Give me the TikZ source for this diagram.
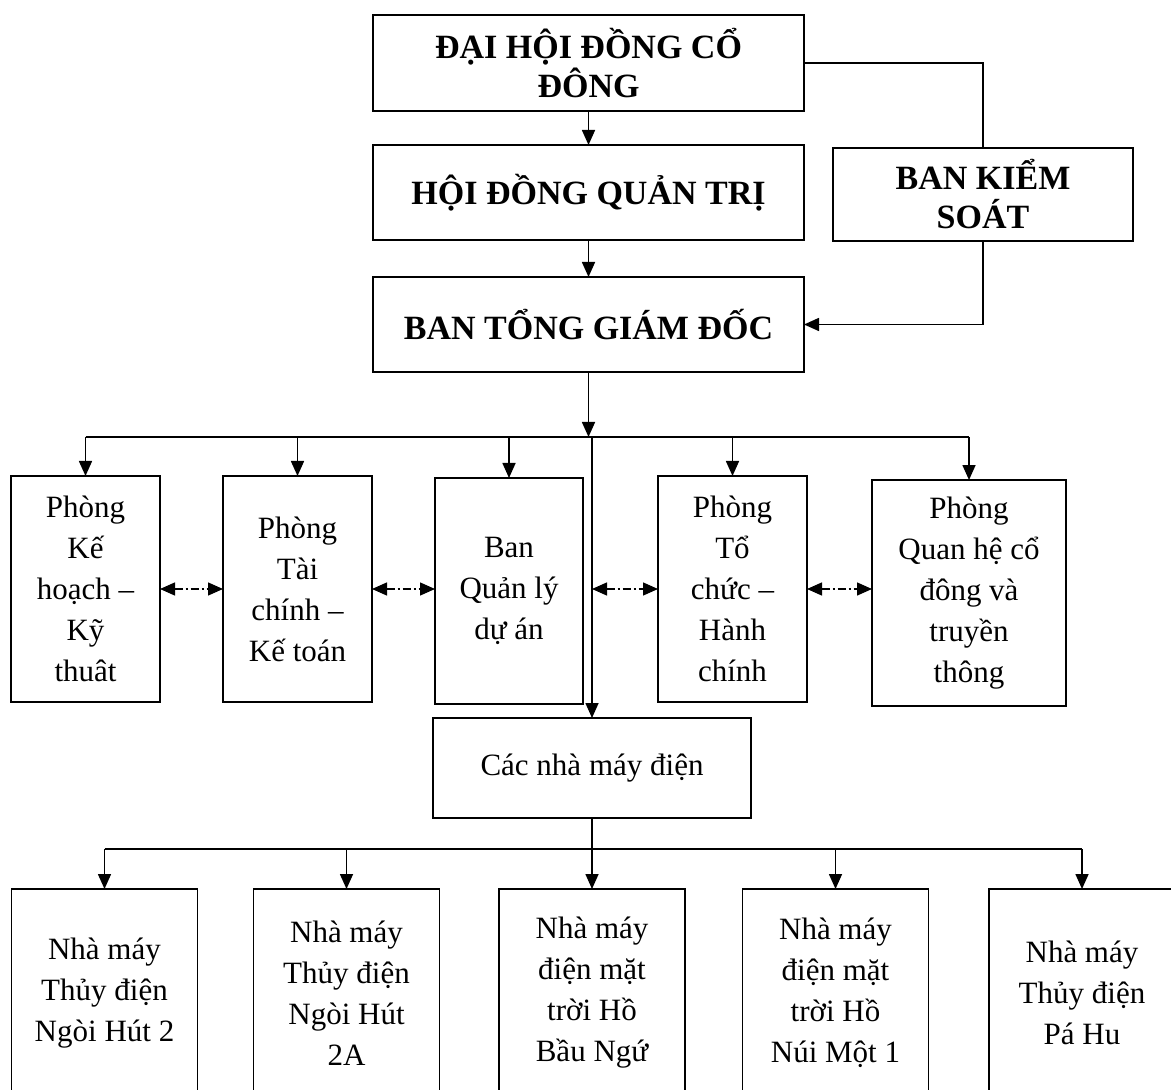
\documentclass[tikz,border=0pt]{standalone}
\usepackage{fontspec}
\setmainfont{Liberation Serif}
\usetikzlibrary{arrows.meta}
\usetikzlibrary{positioning}

\begin{document}
\begin{tikzpicture}[x=0.5pt,y=-0.5pt,>={Triangle[length=7.5pt,width=6.5pt]},
    head node/.style={rectangle,draw,line width=1.3pt,inner sep=0pt,outer sep=0pt,align=center,font=\fontsize{17}{19.5}\selectfont\bfseries},
    dept node/.style={rectangle,draw,line width=0.9pt,inner sep=0pt,outer sep=0pt,align=center,minimum width=74.5pt,minimum height=113pt,font=\fontsize{15.5}{20.5}\selectfont},
    plant node/.style={dept node,minimum width=93pt,minimum height=104pt},
    link/.style={line width=0.8pt},
    dash link/.style={line width=0.7pt,<->,dash pattern=on 4pt off 1.5pt on 1pt off 1.5pt}]
  \useasboundingbox (0,0) rectangle (1171,1090);

    % cap lanh dao
    \node[head node,minimum width=215.5pt,minimum height=48pt] (dhcd) at (588.5,63) {ĐẠI HỘI ĐỒNG CỔ\\ĐÔNG};
    \node[head node,minimum width=215.5pt,minimum height=47.5pt] (hdqt) at (588.5,192.5) {HỘI ĐỒNG QUẢN TRỊ};
    \node[head node,minimum width=150pt,minimum height=46.5pt] (bks) at (983,194.5) {BAN KIỂM\\SOÁT};
    \node[head node,minimum width=215.5pt,minimum height=47.5pt] (btgd) at (588.5,324.5) {BAN TỔNG GIÁM ĐỐC};

    % cac phong ban
    \node[dept node] (p1) at (85.5,589) {Phòng\\Kế\\hoạch –\\Kỹ\\thuât};
    \node[dept node] (p2) at (297.5,589) {Phòng\\Tài\\chính –\\Kế toán};
    \node[dept node,minimum width=74pt] (p3) at (509,591) {Ban\\Quản lý\\dự án};
    \node[dept node] (p4) at (732.5,589) {Phòng\\Tổ\\chức –\\Hành\\chính};
    \node[dept node,minimum width=97pt] (p5) at (969,593) {Phòng\\Quan hệ cổ\\đông và\\truyền\\thông};

    \node[dept node,minimum width=159pt,minimum height=50pt] (cac) at (592,768) {Các nhà máy điện};

    % cac nha may
    \node[plant node] (b1) at (104.5,993) {Nhà máy\\Thủy điện\\Ngòi Hút 2};
    \node[plant node] (b2) at (346.5,993) {Nhà máy\\Thủy điện\\Ngòi Hút\\2A};
    \node[plant node] (b3) at (592,993) {Nhà máy\\điện mặt\\trời Hồ\\Bầu Ngứ};
    \node[plant node] (b4) at (835.5,993) {Nhà máy\\điện mặt\\trời Hồ\\Núi Một 1};
    \node[plant node] (b5) at (1082,993) {Nhà máy\\Thủy điện\\Pá Hu};

    \coordinate (upbus) at (592,437);
    \coordinate (lowbus) at (592,849);

    \path[link,->] (dhcd) edge (hdqt);
    \path[link,->] (hdqt) edge (btgd);
    \draw[link] (dhcd.east) -| (bks.north);
    \draw[link,->] (bks.south) |- (btgd.east);

    \draw[link,->] (btgd.south) -- (btgd.south |- upbus);
    \draw[link] (p1.north |- upbus) -- (p5.north |- upbus);
    \path[link,->] (p1.north |- upbus) edge (p1.north);
    \path[link,->] (p2.north |- upbus) edge (p2.north);
    \path[link,->] (p3.north |- upbus) edge (p3.north);
    \path[link,->] (p4.north |- upbus) edge (p4.north);
    \path[link,->] (p5.north |- upbus) edge (p5.north);
    \draw[link,->] (upbus) -- (cac.north);

    \path[dash link] (p1.east) edge (p1.east -| p2.west);
    \path[dash link] (p2.east) edge (p2.east -| p3.west);
    \path[dash link] (upbus |- p4.west) edge (p4.west);
    \path[dash link] (p4.east) edge (p4.east -| p5.west);

    \draw[link] (cac.south) -- (lowbus);
    \draw[link] (b1.north |- lowbus) -- (b5.north |- lowbus);
    \path[link,->] (b1.north |- lowbus) edge (b1.north);
    \path[link,->] (b2.north |- lowbus) edge (b2.north);
    \path[link,->] (lowbus) edge (b3.north);
    \path[link,->] (b4.north |- lowbus) edge (b4.north);
    \path[link,->] (b5.north |- lowbus) edge (b5.north);
  \end{tikzpicture}
\end{document}
